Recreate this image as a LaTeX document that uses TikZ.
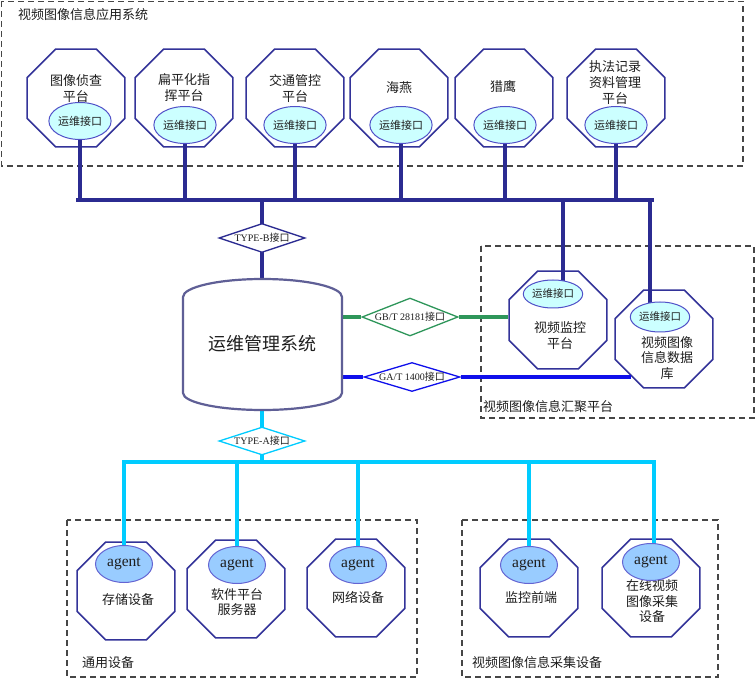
\documentclass[tikz,border=0pt]{standalone}
\usepackage{fontspec}
\setmainfont{Liberation Serif}
\newfontfamily\cjk{Noto Sans CJK SC}
\usetikzlibrary{shapes.geometric}
\definecolor{navy}{RGB}{43,43,145}
\definecolor{octc}{RGB}{51,51,153}
\definecolor{cylc}{RGB}{95,95,150}
\definecolor{grn}{RGB}{46,150,90}
\definecolor{blu}{RGB}{15,15,235}
\definecolor{cyn}{RGB}{0,204,255}
\definecolor{ywfill}{RGB}{204,255,255}
\definecolor{ywc}{RGB}{80,80,200}
\definecolor{agfill}{RGB}{153,204,255}
\definecolor{agc}{RGB}{100,100,210}
\definecolor{boxc}{RGB}{70,70,70}
\definecolor{txt}{RGB}{30,30,30}
\pgfdeclarelayer{bg}
\pgfdeclarelayer{lines}
\pgfsetlayers{bg,lines,main}
\tikzset{
  oct/.style={regular polygon, regular polygon sides=8, minimum size=106pt, inner sep=0pt, draw=octc, line width=1.5pt},
  ywjk/.style={ellipse, draw=ywc, fill=ywfill, line width=1pt, minimum width=56pt, minimum height=37pt, inner sep=0pt, text=txt, font=\cjk\fontsize{11}{13}\selectfont},
  ywjks/.style={ywjk, minimum width=50pt, minimum height=28pt, font=\cjk\fontsize{10.5}{12}\selectfont},
  agentel/.style={ellipse, draw=agc, fill=agfill, line width=1pt, minimum width=57pt, minimum height=37pt, inner sep=0pt, text=txt, font=\fontsize{15.5}{17}\selectfont},
  otext/.style={align=center, text=txt, font=\cjk\fontsize{13}{16}\selectfont, inner sep=0pt},
  grp/.style={draw=boxc, dash pattern=on 6pt off 4pt, line width=1.2pt},
  glabel/.style={anchor=west, text=txt, font=\cjk\fontsize{13}{15}\selectfont, inner sep=0pt},
  dia/.style={diamond, inner sep=0pt, fill=white, line width=1.3pt},
  dtext/.style={text=txt, font=\fontsize{10}{12}\selectfont, inner sep=0pt},
  navyline/.style={draw=navy, line width=4pt, line cap=rect},
  gline/.style={draw=grn, line width=4pt},
  bline/.style={draw=blu, line width=4pt},
  cline/.style={draw=cyn, line width=4pt, line cap=rect},
}
\begin{document}
\begin{tikzpicture}[x=1pt,y=-1pt]
\useasboundingbox (0,0) rectangle (756,679);

% group boxes
\begin{pgfonlayer}{bg}
\fill[white] (0,0) rectangle (756,679);
\draw[grp] (1.5,1.5) rectangle (743,166);
\draw[grp] (481,246) rectangle (754,418);
\draw[grp] (67,520) rectangle (417,677);
\draw[grp] (462,520) rectangle (718,677);
% octagons
\node[oct] (o1) at (76,98) {};
\node[oct] (o2) at (184,98) {};
\node[oct] (o3) at (295,98) {};
\node[oct] (o4) at (399,98) {};
\node[oct] (o5) at (504,98) {};
\node[oct] (o6) at (616,98) {};
\node[oct] (vm) at (558,320) {};
\node[oct] (db) at (664,339) {};
\node[oct] (b1) at (126,591) {};
\node[oct] (b2) at (236,589) {};
\node[oct] (b3) at (356,588) {};
\node[oct] (b4) at (529,588) {};
\node[oct] (b5) at (651,588) {};
\end{pgfonlayer}

\node[glabel] (gl1) at (18,15) {视频图像信息应用系统};
\node[glabel] (gl2) at (483,407) {视频图像信息汇聚平台};
\node[glabel] (gl3) at (82,663) {通用设备};
\node[glabel] (gl4) at (472,663) {视频图像信息采集设备};

% octagon texts
\node[otext] (t1) at (76,88.5) {图像侦查\\平台};
\node[otext] (t2) at (184,88) {扁平化指\\挥平台};
\node[otext] (t3) at (295,88) {交通管控\\平台};
\node[otext] (t4) at (399,88) {海燕};
\node[otext] (t5) at (503,87) {猎鹰};
\node[otext] (t6) at (615,83) {执法记录\\资料管理\\平台};
\node[otext] (t7) at (560,335.5) {视频监控\\平台};
\node[otext, font=\cjk\fontsize{13}{15.5}\selectfont] (t8) at (667,358) {视频图像\\信息数据\\库};
\node[otext] (t9) at (128,600) {存储设备};
\node[otext, font=\cjk\fontsize{13}{15}\selectfont] (t10) at (237,602.5) {软件平台\\服务器};
\node[otext] (t11) at (358,597) {网络设备};
\node[otext] (t12) at (531,598) {监控前端};
\node[otext, font=\cjk\fontsize{13}{15.5}\selectfont] (t13) at (652,601.5) {在线视频\\图像采集\\设备};

% interface ellipses
\node[ywjk] (e1) at (80,121) {运维接口};
\node[ywjk] (e2) at (185,125) {运维接口};
\node[ywjk] (e3) at (295,125) {运维接口};
\node[ywjk] (e4) at (401,125) {运维接口};
\node[ywjk] (e5) at (505,125) {运维接口};
\node[ywjk] (e6) at (616,125) {运维接口};
\node[ywjks] (vme) at (553,294) {运维接口};
\node[ywjks, minimum height=30pt] (dbe) at (660,317) {运维接口};

% agents
\node[agentel] (a1) at (124,564) {agent};
\node[agentel] (a2) at (237,565) {agent};
\node[agentel] (a3) at (358,565) {agent};
\node[agentel] (a4) at (529,565) {agent};
\node[agentel] (a5) at (651,562) {agent};

% diamonds
\node[dia, draw=navy, minimum width=86pt, minimum height=29pt] (tb) at (262,238) {};
\node[dtext] (tbt) at (tb) {TYPE-B{\cjk 接口}};
\node[dia, draw=grn, minimum width=96pt, minimum height=38pt] (gb) at (410,317) {};
\node[dtext] (gbt) at (gb) {GB/T 28181{\cjk 接口}};
\node[dia, draw=blu, minimum width=96pt, minimum height=29pt] (ga) at (412,377) {};
\node[dtext] (gat) at (ga) {GA/T 1400{\cjk 接口}};
\node[dia, draw=cyn, minimum width=86pt, minimum height=28pt] (ta) at (262,441) {};
\node[dtext] (tat) at (ta) {TYPE-A{\cjk 接口}};

% cylinder
\draw[draw=cylc, line width=2.2pt, fill=white]
  (183,297) .. controls (183,287.06) and (218.6,279) .. (262.5,279)
  .. controls (306.4,279) and (342,287.06) .. (342,297)
  -- (342,393) .. controls (342,402.4) and (306.4,410) .. (262.5,410)
  .. controls (218.6,410) and (183,402.4) .. (183,393) -- cycle;
\node[text=txt, font=\cjk\fontsize{18}{20}\selectfont, inner sep=0pt] (sys) at (262,344) {运维管理系统};
\coordinate (sysT) at (262,279);
\coordinate (sysB) at (262,410);
\coordinate (sysR1) at (342,317);
\coordinate (sysR2) at (342,377);

% connector coordinates
\coordinate (busL) at (78,200);
\coordinate (busR) at (652,200);
\coordinate (j1) at (563,200);
\coordinate (j2) at (650,200);
\coordinate (cbusL) at (124,462);
\coordinate (cbusR) at (654,462);
\coordinate (dbhit) at (631,377);

\begin{pgfonlayer}{lines}
\draw[navyline] (busL) -- (busR);
\foreach \e in {e1,e2,e3,e4,e5,e6} \draw[navyline] (\e.south) -- (\e.south |- busL);
\draw[navyline] (tb.north |- busL) -- (tb.north);
\draw[navyline] (tb.south) -- (sysT);
\draw[navyline] (j1) -- (j1 |- vme.north);
\draw[navyline] (j2) -- (j2 |- dbe.north);
\draw[gline] (sysR1) -- (gb.west);
\draw[gline] (gb.east) -- (gb.east -| vm.west);
\draw[bline] (sysR2) -- (ga.west);
\draw[bline] (ga.east) -- (ga.east -| dbhit);
\draw[cline] (sysB) -- (ta.north);
\draw[cline] (ta.south) -- (ta.south |- cbusL);
\draw[cline] (cbusL) -- (cbusR);
\foreach \a in {a1,a2,a3,a4} \draw[cline] (\a.north) -- (\a.north |- cbusL);
\draw[cline] (a5.north -| cbusR) -- (cbusR);
\end{pgfonlayer}
\end{tikzpicture}
\end{document}
